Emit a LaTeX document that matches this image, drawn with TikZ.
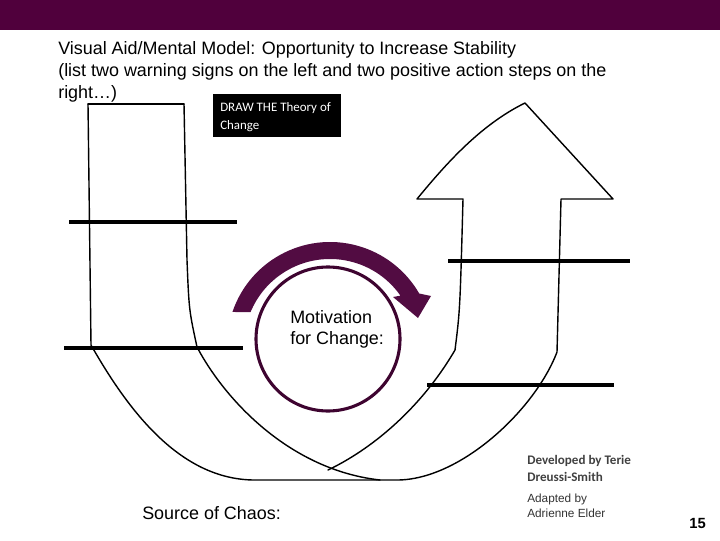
\documentclass[tikz,border=0pt]{standalone}
\usepackage{fontspec}
\setmainfont{Liberation Sans}
\newfontfamily\calibri{Carlito}
\usetikzlibrary{calc}
\definecolor{slidebar}{RGB}{80,0,60}
\definecolor{loopcol}{RGB}{82,12,66}
\definecolor{ringcol}{RGB}{62,4,48}

\begin{document}
\begin{tikzpicture}[x=0.025cm, y=0.025cm, line join=round, line cap=round,
    outline/.style={line width=1pt, black},
    blank/.style={line width=3.2pt, black, line cap=butt},
    txt/.style={anchor=base west, inner sep=0pt, font=\fontsize{12.75}{15}\selectfont}]
    \useasboundingbox (0,0) rectangle (720,540);
    % Slide header
    \fill[slidebar] (0,510) rectangle (720,540);
    \node[txt] (title1) at (58,485) {Visual Aid/Mental Model: Opportunity to Increase Stability};
    \node[txt] (title2) at (58,463) {(list two warning signs on the left and two positive action steps on the};
    \node[txt] (title3) at (58,441) {right\dots)};

    % Black label box
    \fill[black] (213,403) rectangle (341,446);
    \node[txt, text=white, font=\calibri\fontsize{9.2}{11}\selectfont] (draw1) at (220,428) {DRAW THE Theory of};
    \node[txt, text=white, font=\calibri\fontsize{9.2}{11}\selectfont] (draw2) at (220,410) {Change};

    % Outer line: down the left tube, under, up to the arrow
    \draw[outline] (88,436) -- (91,195)
        .. controls (128,130) and (180,60) .. (255,60) -- (397,60)
        .. controls (460,60) and (535,130) .. (557,188) -- (561,341)
        -- (613,341) -- (525,437)
        .. controls (480,415) and (445,375) .. (417,341) -- (463,341)
        .. controls (460,230) .. (455,190)
        .. controls (420,130) and (370,90) .. (328,70);
    % Top of the left tube
    \draw[outline] (88,436) -- (184,436);
    % Inner line of the left tube
    \draw[outline] (184,436) -- (187,280) .. controls (189,230) .. (197,193)
        .. controls (225,140) and (290,70) .. (380,60);

    % Blanks for the warning signs and action steps
    \draw[blank] (69,318) -- (237,318);
    \draw[blank] (64,192) -- (243,192);
    \draw[blank] (448,279) -- (630,279);
    \draw[blank] (427,155) -- (614,155);

    % Motivation ring and turning arrow
    \coordinate (ctr) at (330,195);
    \draw[ringcol, line width=2.2pt] (328,201) circle (72);
    \fill[loopcol] ($(ctr)+(161.3:103)$) arc[start angle=161.3, end angle=30, radius=103]
        -- (431,244) -- (418,222) -- (393,243)
        -- ($(ctr)+(35:86)$) arc[start angle=35, end angle=157.5, radius=86] -- cycle;
    \node[txt] (motiv1) at (290,217) {Motivation};
    \node[txt] (motiv2) at (290,196) {for Change:};

    % Footer texts
    \node[txt] (chaos) at (142,21) {Source of Chaos:};
    \node[txt, text=black!75, font=\calibri\bfseries\fontsize{9.3}{11}\selectfont] (dev1) at (527,76) {Developed by Terie};
    \node[txt, text=black!75, font=\calibri\bfseries\fontsize{9.3}{11}\selectfont] (dev2) at (527,59) {Dreussi-Smith};
    \node[txt, text=black!80, font=\fontsize{8.4}{10}\selectfont] (adapt1) at (527,38) {Adapted by};
    \node[txt, text=black!80, font=\fontsize{8.4}{10}\selectfont] (adapt2) at (527,23) {Adrienne Elder};
    \node[txt, font=\bfseries\fontsize{10.5}{12}\selectfont] (pagenum) at (689,12) {15};
\end{tikzpicture}
\end{document}
